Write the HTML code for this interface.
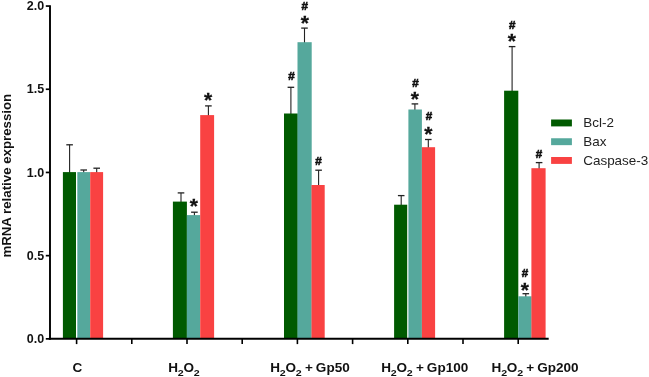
<!DOCTYPE html>
<html><head><meta charset="utf-8"><title>mRNA relative expression</title>
<style>
html,body{margin:0;padding:0;background:#fff}
svg text{font-family:"Liberation Sans",Arial,sans-serif;fill:#111}
svg text.b{font-weight:700}
svg text.r{font-weight:400;fill:#222}
</style></head><body>
<svg width="649" height="377" viewBox="0 0 649 377" style="display:block">
<rect width="649" height="377" fill="#fff"/>
<line x1="69.6" y1="144.8" x2="69.6" y2="173.1" stroke="#222" stroke-width="1.1"/>
<line x1="66.3" y1="144.8" x2="72.89999999999999" y2="144.8" stroke="#222" stroke-width="1.3"/>
<line x1="83.7" y1="170.0" x2="83.7" y2="173.1" stroke="#222" stroke-width="1.1"/>
<line x1="80.4" y1="170.0" x2="87.0" y2="170.0" stroke="#222" stroke-width="1.3"/>
<line x1="96.7" y1="168.2" x2="96.7" y2="173.1" stroke="#222" stroke-width="1.1"/>
<line x1="93.4" y1="168.2" x2="100.0" y2="168.2" stroke="#222" stroke-width="1.3"/>
<line x1="181.0" y1="192.9" x2="181.0" y2="202.6" stroke="#222" stroke-width="1.1"/>
<line x1="177.7" y1="192.9" x2="184.3" y2="192.9" stroke="#222" stroke-width="1.3"/>
<line x1="194.4" y1="212.2" x2="194.4" y2="216.1" stroke="#222" stroke-width="1.1"/>
<line x1="191.1" y1="212.2" x2="197.70000000000002" y2="212.2" stroke="#222" stroke-width="1.3"/>
<line x1="208.4" y1="105.9" x2="208.4" y2="116.1" stroke="#222" stroke-width="1.1"/>
<line x1="205.1" y1="105.9" x2="211.70000000000002" y2="105.9" stroke="#222" stroke-width="1.3"/>
<line x1="290.9" y1="87.3" x2="290.9" y2="114.5" stroke="#222" stroke-width="1.1"/>
<line x1="287.59999999999997" y1="87.3" x2="294.2" y2="87.3" stroke="#222" stroke-width="1.3"/>
<line x1="304.5" y1="28.1" x2="304.5" y2="43.2" stroke="#222" stroke-width="1.1"/>
<line x1="301.2" y1="28.1" x2="307.8" y2="28.1" stroke="#222" stroke-width="1.3"/>
<line x1="318.6" y1="170.2" x2="318.6" y2="186.0" stroke="#222" stroke-width="1.1"/>
<line x1="315.3" y1="170.2" x2="321.90000000000003" y2="170.2" stroke="#222" stroke-width="1.3"/>
<line x1="401.2" y1="195.6" x2="401.2" y2="205.7" stroke="#222" stroke-width="1.1"/>
<line x1="397.9" y1="195.6" x2="404.5" y2="195.6" stroke="#222" stroke-width="1.3"/>
<line x1="414.9" y1="103.9" x2="414.9" y2="110.5" stroke="#222" stroke-width="1.1"/>
<line x1="411.59999999999997" y1="103.9" x2="418.2" y2="103.9" stroke="#222" stroke-width="1.3"/>
<line x1="428.3" y1="139.5" x2="428.3" y2="148.2" stroke="#222" stroke-width="1.1"/>
<line x1="425.0" y1="139.5" x2="431.6" y2="139.5" stroke="#222" stroke-width="1.3"/>
<line x1="512.1" y1="46.6" x2="512.1" y2="91.7" stroke="#222" stroke-width="1.1"/>
<line x1="508.8" y1="46.6" x2="515.4" y2="46.6" stroke="#222" stroke-width="1.3"/>
<line x1="525.8" y1="293.7" x2="525.8" y2="297.3" stroke="#222" stroke-width="1.1"/>
<line x1="522.5" y1="293.7" x2="529.0999999999999" y2="293.7" stroke="#222" stroke-width="1.3"/>
<line x1="539.1" y1="162.6" x2="539.1" y2="169.2" stroke="#222" stroke-width="1.1"/>
<line x1="535.8000000000001" y1="162.6" x2="542.4" y2="162.6" stroke="#222" stroke-width="1.3"/>
<rect x="62.9" y="172.1" width="13.10" height="166.75" fill="#005a00"/>
<rect x="77.3" y="172.1" width="12.90" height="166.75" fill="#55a89c"/>
<rect x="90.2" y="172.1" width="12.90" height="166.75" fill="#f94242"/>
<rect x="172.9" y="201.6" width="14.00" height="137.25" fill="#005a00"/>
<rect x="186.9" y="215.1" width="13.30" height="123.75" fill="#55a89c"/>
<rect x="200.2" y="115.1" width="13.90" height="223.75" fill="#f94242"/>
<rect x="284.0" y="113.5" width="13.80" height="225.35" fill="#005a00"/>
<rect x="297.5" y="42.2" width="14.20" height="296.65" fill="#55a89c"/>
<rect x="311.5" y="185.0" width="13.20" height="153.85" fill="#f94242"/>
<rect x="394.1" y="204.7" width="13.10" height="134.15" fill="#005a00"/>
<rect x="408.4" y="109.5" width="13.50" height="229.35" fill="#55a89c"/>
<rect x="421.9" y="147.2" width="13.20" height="191.65" fill="#f94242"/>
<rect x="504.1" y="90.7" width="14.20" height="248.15" fill="#005a00"/>
<rect x="518.3" y="296.3" width="13.30" height="42.55" fill="#55a89c"/>
<rect x="531.4" y="168.2" width="14.20" height="170.65" fill="#f94242"/>
<line x1="50.0" y1="5.3" x2="50.0" y2="339.85" stroke="#000" stroke-width="1.9"/>
<line x1="48.8" y1="338.85" x2="548.7" y2="338.85" stroke="#000" stroke-width="2.0"/>
<line x1="45.8" y1="338.85" x2="49.5" y2="338.85" stroke="#000" stroke-width="1.7"/>
<text transform="translate(44.1,343.05) scale(0.955,1)" text-anchor="end" class="b" font-size="13.1">0.0</text>
<line x1="45.8" y1="255.65" x2="49.5" y2="255.65" stroke="#000" stroke-width="1.7"/>
<text transform="translate(44.1,259.85) scale(0.955,1)" text-anchor="end" class="b" font-size="13.1">0.5</text>
<line x1="45.8" y1="172.45" x2="49.5" y2="172.45" stroke="#000" stroke-width="1.7"/>
<text transform="translate(44.1,176.65) scale(0.955,1)" text-anchor="end" class="b" font-size="13.1">1.0</text>
<line x1="45.8" y1="89.25" x2="49.5" y2="89.25" stroke="#000" stroke-width="1.7"/>
<text transform="translate(44.1,93.45) scale(0.955,1)" text-anchor="end" class="b" font-size="13.1">1.5</text>
<line x1="45.8" y1="6.05" x2="49.5" y2="6.05" stroke="#000" stroke-width="1.7"/>
<text transform="translate(44.1,10.25) scale(0.955,1)" text-anchor="end" class="b" font-size="13.1">2.0</text>
<line x1="76.60" y1="338.85" x2="76.60" y2="344.1" stroke="#000" stroke-width="1.6"/>
<line x1="131.80" y1="338.85" x2="131.80" y2="344.1" stroke="#000" stroke-width="1.6"/>
<line x1="187.00" y1="338.85" x2="187.00" y2="344.1" stroke="#000" stroke-width="1.6"/>
<line x1="242.20" y1="338.85" x2="242.20" y2="344.1" stroke="#000" stroke-width="1.6"/>
<line x1="297.40" y1="338.85" x2="297.40" y2="344.1" stroke="#000" stroke-width="1.6"/>
<line x1="352.60" y1="338.85" x2="352.60" y2="344.1" stroke="#000" stroke-width="1.6"/>
<line x1="407.80" y1="338.85" x2="407.80" y2="344.1" stroke="#000" stroke-width="1.6"/>
<line x1="463.00" y1="338.85" x2="463.00" y2="344.1" stroke="#000" stroke-width="1.6"/>
<line x1="518.20" y1="338.85" x2="518.20" y2="344.1" stroke="#000" stroke-width="1.6"/>
<text transform="translate(10.6,175.7) rotate(-90) scale(1.07,1)" text-anchor="middle" class="b" font-size="12.4">mRNA relative expression</text>
<text transform="translate(72.6,371.85) scale(1.11,1)" class="b" font-size="12.2">C</text>
<text transform="translate(168.3,371.85) scale(1.11,1)" word-spacing="-0.6" class="b" font-size="12.2"><tspan letter-spacing="-0.2">H</tspan><tspan dy="3.7" font-size="9.6" letter-spacing="-0.2">2</tspan><tspan dy="-3.7" letter-spacing="-0.2">O</tspan><tspan dy="3.7" font-size="9.6">2</tspan></text>
<text transform="translate(270.3,371.85) scale(1.11,1)" word-spacing="-0.6" class="b" font-size="12.2"><tspan letter-spacing="-0.2">H</tspan><tspan dy="3.7" font-size="9.6" letter-spacing="-0.2">2</tspan><tspan dy="-3.7" letter-spacing="-0.2">O</tspan><tspan dy="3.7" font-size="9.6">2</tspan><tspan dy="-3.7"> + Gp50</tspan></text>
<text transform="translate(381.3,371.85) scale(1.11,1)" word-spacing="-0.6" class="b" font-size="12.2"><tspan letter-spacing="-0.2">H</tspan><tspan dy="3.7" font-size="9.6" letter-spacing="-0.2">2</tspan><tspan dy="-3.7" letter-spacing="-0.2">O</tspan><tspan dy="3.7" font-size="9.6">2</tspan><tspan dy="-3.7"> + Gp100</tspan></text>
<text transform="translate(491.6,371.85) scale(1.11,1)" word-spacing="-0.6" class="b" font-size="12.2"><tspan letter-spacing="-0.2">H</tspan><tspan dy="3.7" font-size="9.6" letter-spacing="-0.2">2</tspan><tspan dy="-3.7" letter-spacing="-0.2">O</tspan><tspan dy="3.7" font-size="9.6">2</tspan><tspan dy="-3.7"> + Gp200</tspan></text>
<text x="208.0" y="107.1" text-anchor="middle" class="b" font-size="21" stroke="#111" stroke-width="0.3">*</text>
<text x="193.8" y="213.1" text-anchor="middle" class="b" font-size="21" stroke="#111" stroke-width="0.3">*</text>
<text x="304.8" y="9.6" text-anchor="middle" class="b" font-size="11.6" stroke="#111" stroke-width="0.6">#</text>
<text x="304.8" y="30.1" text-anchor="middle" class="b" font-size="21" stroke="#111" stroke-width="0.3">*</text>
<text x="291.4" y="80.2" text-anchor="middle" class="b" font-size="11.6" stroke="#111" stroke-width="0.6">#</text>
<text x="318.5" y="165.2" text-anchor="middle" class="b" font-size="11.6" stroke="#111" stroke-width="0.6">#</text>
<text x="415.4" y="87.2" text-anchor="middle" class="b" font-size="11.6" stroke="#111" stroke-width="0.6">#</text>
<text x="414.9" y="106.0" text-anchor="middle" class="b" font-size="21" stroke="#111" stroke-width="0.3">*</text>
<text x="428.9" y="120.0" text-anchor="middle" class="b" font-size="11.6" stroke="#111" stroke-width="0.6">#</text>
<text x="428.3" y="140.5" text-anchor="middle" class="b" font-size="21" stroke="#111" stroke-width="0.3">*</text>
<text x="512.2" y="28.8" text-anchor="middle" class="b" font-size="11.6" stroke="#111" stroke-width="0.6">#</text>
<text x="511.9" y="48.0" text-anchor="middle" class="b" font-size="21" stroke="#111" stroke-width="0.3">*</text>
<text x="524.9" y="277.2" text-anchor="middle" class="b" font-size="11.6" stroke="#111" stroke-width="0.6">#</text>
<text x="524.8" y="296.8" text-anchor="middle" class="b" font-size="21" stroke="#111" stroke-width="0.3">*</text>
<text x="539.1" y="157.9" text-anchor="middle" class="b" font-size="11.6" stroke="#111" stroke-width="0.6">#</text>
<rect x="551.1" y="119.50" width="20.8" height="6.9" fill="#005a00"/>
<text transform="translate(583.2,127.20) scale(1.02,1)" class="r" font-size="13.2">Bcl-2</text>
<rect x="551.1" y="138.25" width="20.8" height="6.9" fill="#55a89c"/>
<text transform="translate(583.2,145.95) scale(1.02,1)" class="r" font-size="13.2">Bax</text>
<rect x="551.1" y="157.00" width="20.8" height="6.9" fill="#f94242"/>
<text transform="translate(583.2,164.70) scale(1.02,1)" class="r" font-size="13.2">Caspase-3</text>
</svg>
</body></html>
